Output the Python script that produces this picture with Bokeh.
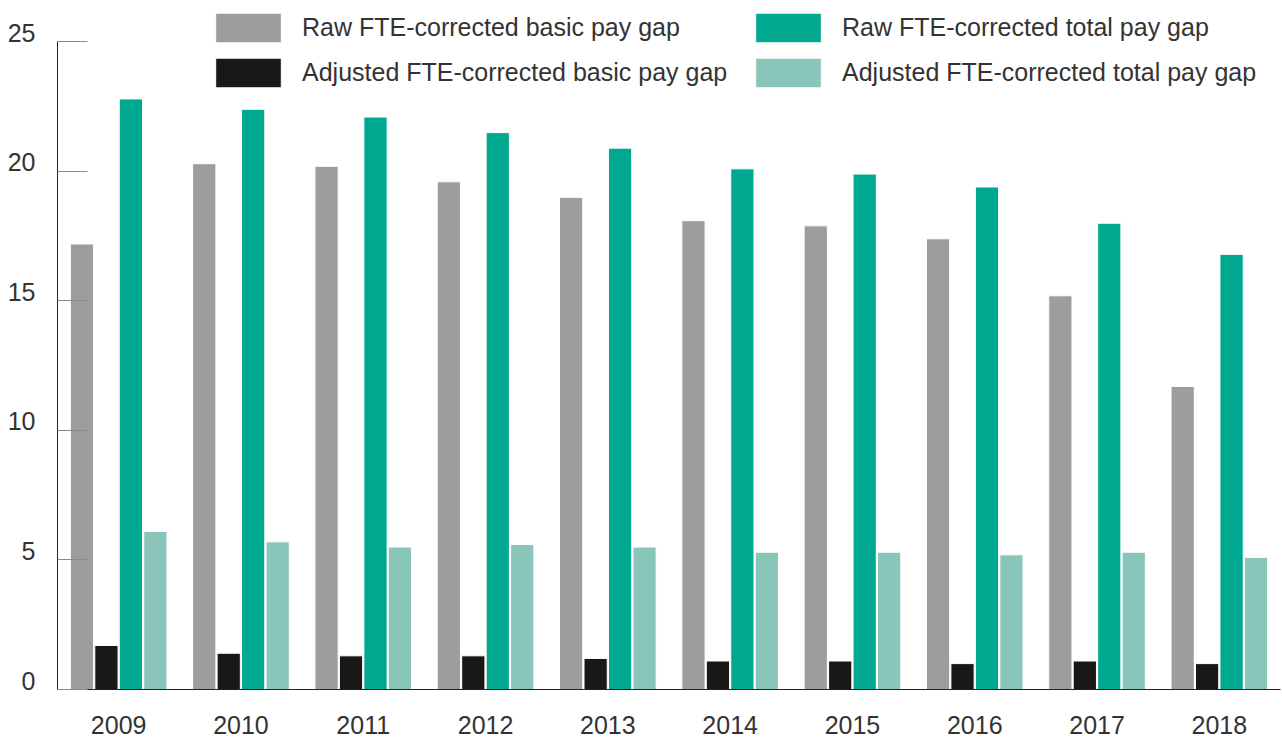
from bokeh.plotting import figure
from bokeh.models import (ColumnDataSource, Range1d, FactorRange, Legend, LegendItem,
                          FixedTicker, LinearAxis, CustomJSTickFormatter)
from bokeh.transform import dodge
from bokeh.embed import file_html
from bokeh.resources import INLINE

years = ["2009", "2010", "2011", "2012", "2013", "2014", "2015", "2016", "2017", "2018"]
raw_basic = [17.2, 20.3, 20.2, 19.6, 19.0, 18.1, 17.9, 17.4, 15.2, 11.7]
adj_basic = [1.7, 1.4, 1.3, 1.3, 1.2, 1.1, 1.1, 1.0, 1.1, 1.0]
raw_total = [22.8, 22.4, 22.1, 21.5, 20.9, 20.1, 19.9, 19.4, 18.0, 16.8]
adj_total = [6.1, 5.7, 5.5, 5.6, 5.5, 5.3, 5.3, 5.2, 5.3, 5.1]
y_ticks = [0, 5, 10, 15, 20, 25]
y_tick_labels = ["0", "5", "10", "15", "20", "25"]

labels = ["Raw FTE-corrected basic pay gap", "Adjusted FTE-corrected basic pay gap",
          "Raw FTE-corrected total pay gap", "Adjusted FTE-corrected total pay gap"]
colors = ["#9d9d9d", "#1a1816", "#00a88f", "#89c6b9"]
FONT = "Liberation Sans"

# y range extends above 25 so the legend (which sits above the 25 tick) stays inside the frame
Y_TOP = 26.6
FRAME_H = 689
LABEL_SHIFT = 9 * Y_TOP / FRAME_H   # tick labels sit on their tick, not centred on it

src = ColumnDataSource(dict(year=years, raw_basic=raw_basic, adj_basic=adj_basic,
                            raw_total=raw_total, adj_total=adj_total))

p = figure(width=1282, height=738, x_range=FactorRange(*years, range_padding=0),
           y_range=Range1d(0, Y_TOP), output_backend="svg", toolbar_location=None,
           min_border_left=57, min_border_right=2, min_border_top=0, min_border_bottom=49)
p.outline_line_color = None
p.xgrid.grid_line_color = None
p.ygrid.grid_line_color = None

renderers = []
for field, off, col in zip(["raw_basic", "adj_basic", "raw_total", "adj_total"],
                           [-0.3, -0.1, 0.1, 0.3], colors):
    r = p.vbar(x=dodge("year", off, range=p.x_range), top=field, width=0.19, bottom=0,
               source=src, fill_color=col, line_color="white", line_width=1)
    renderers.append(r)

yax = p.yaxis[0]
yax.ticker = FixedTicker(ticks=y_ticks)
yax.bounds = (0, 25)
yax.major_tick_in = 30
yax.major_tick_out = 0
yax.minor_tick_line_color = None
yax.major_tick_line_color = "#8a8a8a"
yax.axis_line_color = "#222222"
yax.formatter = CustomJSTickFormatter(code="return ''")
yax.major_label_standoff = 0

p.extra_y_ranges = {"lab": Range1d(-LABEL_SHIFT, Y_TOP - LABEL_SHIFT)}
lab_axis = LinearAxis(y_range_name="lab", ticker=FixedTicker(ticks=y_ticks),
                      major_label_overrides={v: s for v, s in zip(y_ticks, y_tick_labels)},
                      axis_line_color=None, major_tick_line_color=None,
                      minor_tick_line_color=None, major_label_standoff=16,
                      major_label_text_font=FONT, major_label_text_font_size="25px",
                      major_label_text_color="#333333")
p.add_layout(lab_axis, "left")

p.xaxis.major_tick_line_color = None
p.xaxis.minor_tick_line_color = None
p.xaxis.axis_line_color = "#222222"
p.xaxis.major_label_text_font = FONT
p.xaxis.major_label_text_font_size = "25px"
p.xaxis.major_label_text_color = "#333333"
p.xaxis.major_label_standoff = 20

common = dict(orientation="vertical", glyph_width=82, glyph_height=37, label_standoff=13,
              spacing=8, padding=0, margin=0, border_line_color=None,
              background_fill_alpha=0, label_text_font=FONT, label_text_font_size="25px",
              label_text_color="#333333")
leg1 = Legend(items=[LegendItem(label=labels[i], renderers=[renderers[i]]) for i in (0, 1)],
              location=(150, 598), **common)
leg2 = Legend(items=[LegendItem(label=labels[i], renderers=[renderers[i]]) for i in (2, 3)],
              location=(690, 598), **common)
p.add_layout(leg1, "center")
p.add_layout(leg2, "center")

open("out.html", "w").write(file_html(p, INLINE))
